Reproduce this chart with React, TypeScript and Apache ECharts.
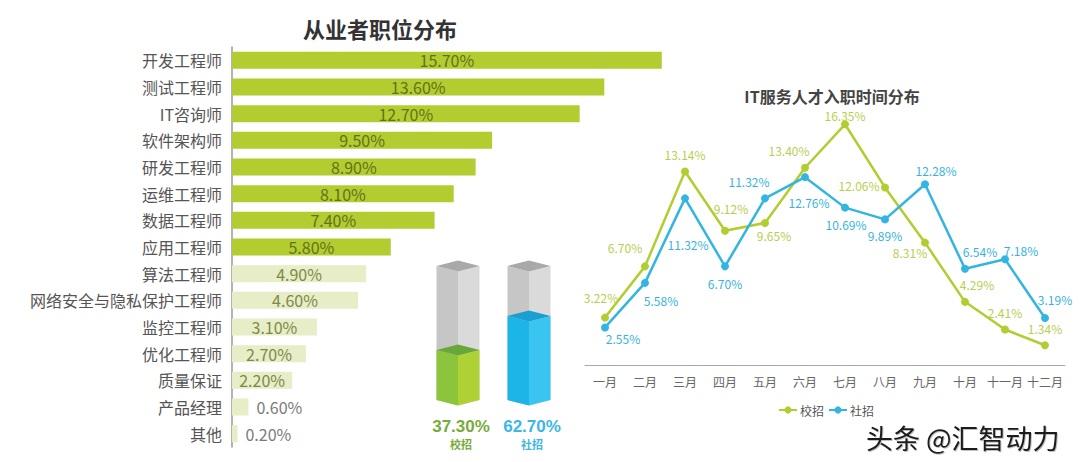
import React, { useEffect, useRef } from "react";
import * as echarts from "echarts";

// ---- data ----
const jobCategories = [
  "开发工程师", "测试工程师", "IT咨询师", "软件架构师", "研发工程师",
  "运维工程师", "数据工程师", "应用工程师", "算法工程师", "网络安全与隐私保护工程师",
  "监控工程师", "优化工程师", "质量保证", "产品经理", "其他",
];
const jobShares = [15.7, 13.6, 12.7, 9.5, 8.9, 8.1, 7.4, 5.8, 4.9, 4.6, 3.1, 2.7, 2.2, 0.6, 0.2];

const hireTypes = ["校招", "社招"];
const hireTypeShares = [37.3, 62.7];

const months = ["一月", "二月", "三月", "四月", "五月", "六月", "七月", "八月", "九月", "十月", "十一月", "十二月"];
const campusHires = [3.22, 6.7, 13.14, 9.12, 9.65, 13.4, 16.35, 12.06, 8.31, 4.29, 2.41, 1.34];
const socialHires = [2.55, 5.58, 11.32, 6.7, 11.32, 12.76, 10.69, 9.89, 12.28, 6.54, 7.18, 3.19];

// ---- label layout (offsets of label centre from point) ----
const campusLabelOffsets = [
  [-4, -20], [-20, -19], [0, -17], [6, -22], [9, 13], [-16, -17],
  [0, -9], [-26, -2], [-15, 10], [12, -17], [0, -17], [0, -17],
];
const socialLabelOffsets = [
  [18, 11], [16, 18], [3, 46], [0, 17], [-16, -17], [4, 25],
  [1, 17], [0, 16], [11, -14], [15, -17], [16, -9], [10, -19],
];

const GREEN = "#b3cc2f";
const BLUE = "#33b5e2";

export default function App() {
  const ref = useRef<HTMLDivElement>(null);
  useEffect(() => {
    document.body.style.margin = "0";
    if (!ref.current) return;
    const chart = echarts.init(ref.current, undefined, { renderer: "svg" });

    const boxPalettes = [
      { left: "#8cc53c", right: "#aed136", top: "#68a83a", text: "#78ab3c" },
      { left: "#1db4e8", right: "#3ac4f0", top: "#199fd2", text: "#3cb6e6" },
    ];

    const option: any = {
      animation: false,
      textStyle: { fontFamily: "'Noto Sans CJK SC', 'Noto Sans', sans-serif" },
      grid: [
        { left: 232, top: 47, width: 438, height: 400 },
        { left: 422.5, top: 266, width: 142, height: 134 },
        { left: 585, top: 100, width: 480, height: 265 },
      ],
      xAxis: [
        { type: "value", gridIndex: 0, min: 0, max: 16, show: false },
        { type: "category", gridIndex: 1, data: hireTypes, show: false },
        {
          type: "category",
          gridIndex: 2,
          data: months,
          boundaryGap: true,
          axisLine: { lineStyle: { color: "#aaa", width: 1 } },
          axisTick: { show: false },
          axisLabel: { color: "#666", fontSize: 12, margin: 10, interval: 0 },
        },
      ],
      yAxis: [
        {
          type: "category",
          gridIndex: 0,
          data: jobCategories,
          inverse: true,
          axisLine: { show: true, lineStyle: { color: "#999", width: 1.5 } },
          axisTick: { show: false },
          axisLabel: { color: "#555", fontSize: 16, margin: 10 },
        },
        { type: "value", gridIndex: 1, min: 0, max: 100, show: false },
        { type: "value", gridIndex: 2, min: 0, max: 18, show: false },
      ],
      legend: {
        data: ["校招", "社招"],
        left: 773,
        top: 399,
        itemWidth: 18,
        itemHeight: 9,
        itemGap: 4,
        textStyle: { color: "#555", fontSize: 12, padding: [0, 0, 0, -2] },
      },
      series: [
        {
          type: "bar",
          xAxisIndex: 0,
          yAxisIndex: 0,
          barWidth: 17,
          data: jobShares.map((v, i) => ({
            value: v,
            itemStyle: { color: i < 8 ? GREEN : "#e6edc7" },
            label: {
              show: true,
              position: v < 1 ? "right" : "inside",
              distance: 8,
              formatter: (p: any) => p.value.toFixed(2) + "%",
              color: v < 1 ? "#7a7a7a" : i < 8 ? "#62721c" : "#7d8a45",
              fontSize: 16,
            },
          })),
        },
        {
          type: "custom",
          xAxisIndex: 1,
          yAxisIndex: 1,
          data: hireTypeShares.map((v, i) => [i, v]),
          renderItem: (params: any, api: any) => {
            const idx = api.value(0);
            const val = api.value(1);
            const base = api.coord([idx, 0]);
            const fill = api.coord([idx, val]);
            const full = api.coord([idx, 100]);
            const cx = base[0];
            const hw = 21.5;
            const d = 5.5;
            const L = cx - hw;
            const R = cx + hw;
            const pal = boxPalettes[idx];
            const faces = (ty: number, by: number, cl: string, cr: string, ct: string) => [
              { type: "polygon", shape: { points: [[L, ty], [cx, ty + d], [cx, by + d], [L, by]] }, style: { fill: cl } },
              { type: "polygon", shape: { points: [[cx, ty + d], [R, ty], [R, by], [cx, by + d]] }, style: { fill: cr } },
              { type: "polygon", shape: { points: [[L, ty], [cx, ty - d], [R, ty], [cx, ty + d]] }, style: { fill: ct } },
            ];
            return {
              type: "group",
              children: [
                ...faces(full[1], base[1], "#c6c6c6", "#dadada", "#a9a9a9"),
                ...faces(fill[1], base[1], pal.left, pal.right, pal.top),
                {
                  type: "text",
                  x: cx + 3,
                  y: base[1] + 26,
                  style: {
                    text: val.toFixed(2) + "%",
                    fill: pal.text,
                    font: "bold 17px 'Liberation Sans', Arial, sans-serif",
                    align: "center",
                    verticalAlign: "middle",
                  },
                },
                {
                  type: "text",
                  x: cx + 3,
                  y: base[1] + 44,
                  style: {
                    text: hireTypes[idx],
                    fill: pal.text,
                    font: "bold 11px 'Noto Sans CJK SC', sans-serif",
                    align: "center",
                    verticalAlign: "middle",
                  },
                },
              ],
            };
          },
        },
        {
          name: "校招",
          type: "line",
          xAxisIndex: 2,
          yAxisIndex: 2,
          symbol: "circle",
          symbolSize: 8,
          lineStyle: { width: 2.5, color: GREEN },
          itemStyle: { color: GREEN },
          data: campusHires.map((v, i) => ({
            value: v,
            label: { offset: campusLabelOffsets[i] },
          })),
          label: {
            show: true,
            position: "inside",
            color: "#b8ce50",
            fontSize: 12,
            formatter: (p: any) => p.value.toFixed(2) + "%",
          },
        },
        {
          name: "社招",
          type: "line",
          xAxisIndex: 2,
          yAxisIndex: 2,
          symbol: "circle",
          symbolSize: 8,
          lineStyle: { width: 2.5, color: BLUE },
          itemStyle: { color: BLUE },
          data: socialHires.map((v, i) => ({
            value: v,
            label: { offset: socialLabelOffsets[i] },
          })),
          label: {
            show: true,
            position: "inside",
            color: "#38b3e0",
            fontSize: 12,
            formatter: (p: any) => p.value.toFixed(2) + "%",
          },
        },
      ],
      graphic: [
        {
          type: "text",
          x: 380,
          y: 28,
          style: {
            text: "从业者职位分布",
            fill: "#333",
            font: "bold 22px 'Noto Sans CJK SC', sans-serif",
            align: "center",
            verticalAlign: "middle",
          },
        },
        {
          type: "text",
          x: 832,
          y: 96,
          style: {
            text: "IT服务人才入职时间分布",
            fill: "#444",
            font: "bold 16px 'Noto Sans CJK SC', sans-serif",
            align: "center",
            verticalAlign: "middle",
          },
        },
        {
          type: "text",
          x: 866,
          y: 437,
          style: {
            text: "头条 @汇智动力",
            fill: "#1a1a1a",
            font: "27px 'Noto Sans CJK SC', sans-serif",
            align: "left",
            verticalAlign: "middle",
            textShadowColor: "rgba(0,0,0,0.25)",
            textShadowOffsetX: 1,
            textShadowOffsetY: 1,
            textShadowBlur: 1,
          },
        },
      ],
    };

    chart.setOption(option);
    return () => chart.dispose();
  }, []);

  return <div ref={ref} style={{ width: 1080, height: 462 }} />;
}
